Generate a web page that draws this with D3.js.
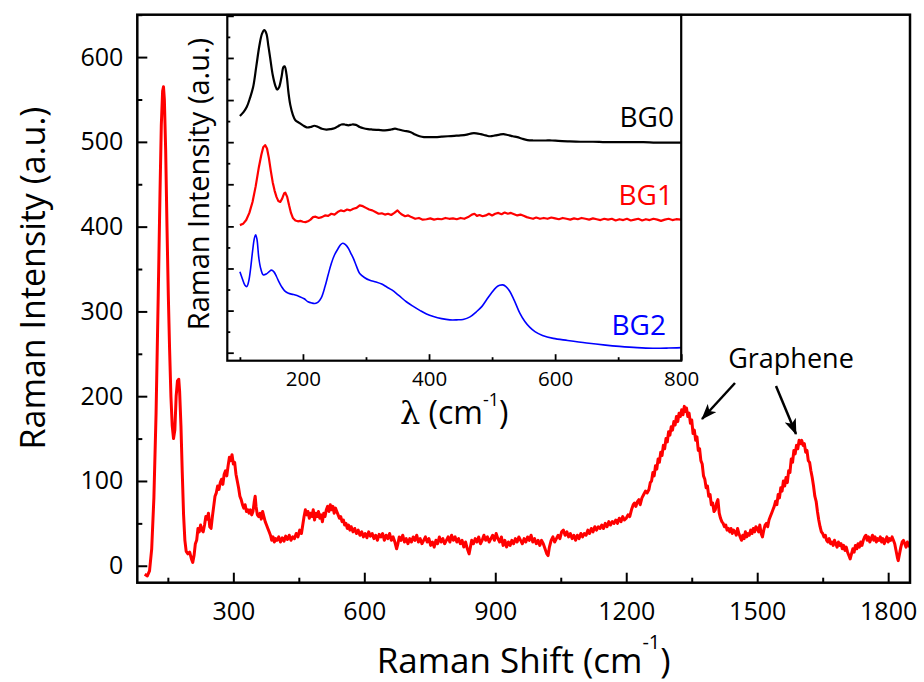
<!DOCTYPE html>
<html><head><meta charset="utf-8">
<script src="https://cdn.jsdelivr.net/npm/d3@7"></script>
<style>body{margin:0;background:#fff} svg{display:block} text{font-family:"Open Sans",sans-serif;fill:#000}</style>
</head><body><svg id="c" width="924" height="682"></svg>
<script>
// ---------- DATA ----------
const mainSpectrum = [[97,-10],[103,-12],[108,-6],[113,20],[118,80],[123,180],[128,320],[132,440],[135,520],[138,560],[140,565],[142,550],[145,490],[148,400],[151,320],[154,255],[157,200],[160,165],[163,150],[166,160],[169,200],[172,218],[175,220],[177,205],[180,165],[183,110],[186,60],[189,30],[192,17],[196,14],[200,16],[204,8],[207,4],[210,12],[213,26],[216,30],[219,44],[222,40],[225,48],[228,42],[231,40],[234,48],[237,58],[240,55],[243,62],[246,46],[249,44],[252,58],[255,70],[258,82],[261,86],[264,94],[267,90],[270,98],[273,102],[276,96],[279,108],[282,112],[285,106],[288,118],[291,128],[294,124],[297,131],[300,120],[303,122],[306,108],[309,100],[312,92],[315,82],[318,78],[321,72],[324,68],[327,72],[330,64],[333,66],[336,62],[339,66],[342,60],[345,64],[348,76],[350,82],[352,70],[355,60],[358,58],[361,62],[364,55],[367,64],[370,58],[373,52],[376,48],[379,44],[382,40],[385,36],[388,30],[391,34],[394,28],[397,32],[400,30],[404,34],[408,28],[412,33],[416,29],[420,35],[424,31],[428,36],[432,30],[436,34],[440,32],[444,38],[448,34],[452,42],[456,38],[459,48],[462,58],[465,66],[468,60],[471,64],[474,56],[477,62],[480,58],[483,66],[486,54],[489,62],[492,58],[495,64],[498,56],[501,60],[504,52],[507,62],[510,58],[513,66],[516,70],[519,64],[522,72],[525,66],[528,70],[531,62],[534,68],[537,64],[540,60],[543,56],[546,58],[549,52],[552,54],[555,48],[558,50],[561,44],[564,48],[567,42],[570,46],[574,40],[578,44],[582,38],[586,42],[590,36],[594,40],[598,34],[602,38],[606,33],[610,40],[614,35],[618,38],[622,32],[626,36],[630,30],[634,37],[638,34],[642,38],[646,30],[650,36],[654,32],[658,38],[662,30],[666,34],[670,28],[674,20],[677,26],[680,34],[684,30],[688,36],[692,28],[696,32],[700,26],[704,32],[708,28],[712,34],[716,30],[720,36],[724,28],[728,32],[732,26],[736,30],[740,34],[744,28],[748,32],[752,24],[756,28],[760,22],[764,30],[768,26],[772,34],[776,28],[780,32],[784,26],[788,30],[792,34],[796,28],[800,36],[804,30],[808,34],[812,28],[816,32],[820,26],[824,30],[828,22],[832,28],[836,20],[840,14],[843,22],[846,30],[850,26],[854,32],[858,28],[862,34],[866,26],[870,30],[874,36],[878,30],[882,34],[886,28],[890,32],[894,36],[898,30],[902,38],[906,32],[910,28],[914,34],[918,24],[922,30],[926,22],[930,28],[934,24],[938,30],[942,26],[946,32],[950,28],[954,34],[958,30],[962,26],[966,32],[970,28],[974,34],[978,30],[982,36],[986,28],[990,32],[994,26],[998,30],[1002,24],[1006,30],[1010,26],[1014,20],[1018,14],[1021,12],[1024,22],[1028,30],[1032,34],[1036,28],[1040,32],[1044,36],[1048,32],[1052,40],[1056,42],[1060,36],[1064,40],[1068,34],[1072,38],[1076,32],[1080,36],[1084,30],[1088,36],[1092,32],[1096,38],[1100,34],[1104,38],[1108,36],[1112,42],[1116,38],[1120,44],[1124,40],[1128,46],[1132,42],[1136,46],[1140,44],[1144,48],[1148,44],[1152,50],[1156,46],[1160,52],[1164,48],[1168,52],[1172,50],[1176,54],[1180,50],[1184,56],[1188,52],[1192,58],[1196,54],[1200,56],[1204,60],[1208,58],[1212,66],[1216,72],[1219,74],[1222,70],[1226,76],[1229,78],[1232,72],[1236,80],[1240,84],[1244,88],[1248,86],[1252,90],[1255,98],[1258,100],[1261,110],[1264,106],[1267,118],[1270,114],[1273,126],[1276,122],[1279,134],[1282,130],[1285,142],[1288,138],[1291,150],[1294,146],[1297,158],[1300,154],[1303,164],[1306,160],[1309,170],[1312,166],[1315,176],[1318,170],[1321,180],[1324,176],[1327,184],[1330,178],[1333,188],[1336,182],[1338,186],[1341,176],[1344,180],[1347,168],[1350,172],[1353,156],[1356,160],[1359,148],[1362,152],[1365,136],[1368,138],[1371,124],[1374,120],[1377,106],[1380,102],[1383,92],[1386,94],[1389,82],[1392,84],[1395,72],[1398,74],[1401,64],[1404,66],[1407,74],[1410,78],[1413,62],[1416,56],[1419,52],[1422,50],[1425,46],[1428,48],[1431,42],[1434,44],[1437,40],[1440,44],[1443,38],[1446,42],[1449,40],[1452,36],[1455,44],[1458,38],[1461,34],[1464,30],[1467,36],[1470,32],[1473,40],[1476,34],[1479,38],[1482,36],[1485,42],[1488,38],[1491,44],[1494,40],[1497,46],[1500,44],[1503,40],[1506,48],[1509,38],[1512,34],[1515,42],[1518,48],[1521,50],[1524,46],[1527,54],[1530,58],[1533,62],[1536,66],[1539,70],[1542,76],[1545,72],[1548,84],[1551,80],[1554,92],[1557,88],[1560,100],[1563,94],[1566,104],[1569,98],[1572,112],[1575,110],[1578,126],[1581,122],[1584,136],[1587,132],[1590,142],[1593,138],[1596,148],[1599,144],[1602,148],[1605,142],[1608,144],[1611,134],[1614,136],[1617,124],[1620,122],[1623,112],[1626,104],[1629,94],[1632,82],[1635,76],[1638,64],[1641,54],[1644,46],[1647,40],[1650,38],[1653,34],[1656,36],[1659,30],[1662,28],[1665,32],[1668,26],[1671,28],[1674,24],[1677,30],[1680,26],[1683,22],[1686,28],[1689,24],[1692,26],[1695,20],[1698,24],[1701,18],[1704,22],[1707,16],[1710,12],[1713,8],[1716,14],[1719,20],[1722,16],[1725,24],[1728,20],[1731,26],[1734,22],[1737,28],[1740,24],[1743,30],[1746,34],[1749,36],[1752,30],[1755,34],[1758,28],[1761,32],[1764,36],[1767,30],[1770,34],[1773,28],[1776,32],[1779,30],[1782,34],[1785,28],[1788,32],[1791,26],[1794,30],[1797,34],[1800,28],[1803,32],[1806,30],[1809,34],[1812,30],[1815,26],[1818,18],[1821,10],[1823,6],[1826,14],[1829,22],[1832,28],[1835,30],[1838,26],[1841,22],[1844,28],[1847,24],[1850,22]];

const bg0 = [[100,562],[106,572],[111,584],[116,605],[121,631],[126,680],[131,730],[135,757],[138.7,766],[142,758],[145,730],[148,700],[152,660],[156,635],[159,625],[162,630],[166,655],[169,678],[171,680],[174,660],[177,618],[180,588],[184,565],[188,552],[194,546],[200,540],[206,535],[212,536],[218,539],[224,536],[230,532],[237,530],[244,531],[250,533],[256,538],[261,542],[266,542],[272,540],[278,542],[284,541],[290,536],[296,533],[303,531],[310,530],[320,529],[330,528],[340,530],[346,532],[352,530],[360,527],[368,525],[372,523],[378,518],[385,514],[392,512],[400,512],[410,512],[420,513],[430,514],[440,515],[450,516],[460,518],[468,521],[475,521],[482,519],[490,516],[497,514],[505,516],[512,518],[518,519],[525,517],[533,514],[540,512],[548,508],[556,505],[565,504],[575,504],[585,504],[595,504],[605,503],[620,502],[640,501],[660,501],[680,500],[700,500],[720,500],[740,500],[760,499],[780,499],[800,499]];

const bg1 = [[100,303],[105,306],[110,315],[115,332],[120,358],[125,395],[130,440],[134,470],[137,488],[140,493],[143,485],[146,462],[149,432],[152,405],[155,385],[158,370],[161,360],[164,358],[167,366],[170,378],[172,380],[175,370],[178,350],[181,332],[184,320],[188,314],[192,312],[196,313],[200,311],[204,310],[208,312],[212,316],[216,322],[220,323],[225,320],[230,322],[235,326],[240,325],[245,330],[250,328],[255,334],[260,338],[265,336],[270,340],[275,338],[280,342],[285,344],[290,350],[295,348],[300,344],[305,340],[310,338],[315,334],[320,330],[325,331],[330,328],[335,330],[340,327],[345,332],[350,338],[353,333],[357,328],[362,324],[367,326],[372,322],[378,318],[384,320],[390,316],[396,317],[402,319],[408,316],[414,318],[420,317],[426,320],[432,318],[438,319],[444,317],[450,320],[456,318],[462,322],[468,328],[472,330],[476,325],[480,327],[485,324],[490,326],[495,330],[500,326],[505,330],[510,332],[515,329],[520,333],[525,330],[530,332],[535,329],[540,326],[545,328],[550,325],[555,322],[560,320],[565,318],[570,321],[576,318],[582,320],[588,318],[594,321],[600,319],[606,317],[612,320],[618,318],[624,316],[630,319],[636,317],[642,320],[648,318],[654,316],[660,319],[666,317],[672,315],[678,318],[684,316],[690,318],[696,314],[702,317],[708,315],[714,318],[720,314],[726,316],[732,318],[738,314],[744,317],[750,315],[756,318],[762,316],[768,313],[774,316],[780,318],[786,315],[792,317],[800,316]];

const bg2 = [[100,192],[104,175],[108,160],[111,157],[114,170],[117,200],[120,240],[123,272],[125,280],[127,270],[130,225],[133,200],[137,185],[142,187],[146,192],[150,196],[154,192],[158,181],[162,168],[166,157],[171,147],[177,141],[185,138],[195,133],[202,128],[208,121],[214,118],[219,117],[224,120],[229,130],[235,157],[240,185],[245,212],[250,232],[256,248],[260,257],[263,260],[267,257],[272,248],[276,236],[280,224],[285,205],[290,188],[298,178],[306,172],[316,168],[325,163],[333,156],[341,149],[352,136],[364,121],[375,110],[386,100],[396,92],[407,86],[420,81],[433,78],[444,78],[454,79],[465,85],[475,97],[484,110],[491,125],[499,142],[507,156],[512,160],[517,161],[522,157],[528,146],[535,125],[544,94],[552,74],[560,60],[568,50],[580,41],[597,34],[620,29],[650,23],[680,18],[702,15],[730,12],[755,10.5],[780,11],[800,12]];

const mainXTicks = [300,600,900,1200,1500,1800];
const mainXMinor = [150,450,750,1050,1350,1650];
const mainYTicks = [0,100,200,300,400,500,600];
const mainYMinor = [50,150,250,350,450,550,650];
const insetXTicks = [200,400,600,800];
const insetXMinor = [100,300,500,700];
const insetYMajor = [0,100,200,300,400,500,600,700,800];
const insetYMinor = [50,150,250,350,450,550,650,750];
const insetLabels = ["BG0","BG1","BG2"];
const insetColors = ["#000000","#ff0000","#0000ff"];

// ---------- LAYOUT ----------
const svg = d3.select("#c");
const M = {l:137.3, r:910, t:14.7, b:582.7};
const I = {l:227.3, r:681.2, t:15, b:360.7};
const x = d3.scaleLinear([80,1850],[M.l,M.r]);
const y = d3.scaleLinear([-20,650],[M.b,M.t]);
const ix = d3.scaleLinear([80,800],[I.l,I.r]);
const iy = d3.scaleLinear([-19,802],[I.b,I.t]);

const defs = svg.append("defs");
defs.append("clipPath").attr("id","mclip").append("rect")
  .attr("x",M.l).attr("y",M.t).attr("width",M.r-M.l).attr("height",M.b-M.t);
defs.append("marker").attr("id","arr").attr("viewBox","0 0 16 12")
  .attr("markerUnits","userSpaceOnUse").attr("markerWidth",16).attr("markerHeight",12)
  .attr("refX",15).attr("refY",6).attr("orient","auto")
  .append("path").attr("d","M0,0 L16,6 L0,12 L4,6 Z").attr("fill","#000");

function styleAxis(g, w){
  g.select(".domain").remove();
  g.selectAll(".tick line").attr("stroke","#000").attr("stroke-width",w);
}

// main axes
const gx = svg.append("g").attr("transform",`translate(0,${M.b})`)
  .call(d3.axisBottom(x).tickValues(mainXTicks).tickSizeInner(-10).tickSizeOuter(0).tickPadding(19.5).tickFormat(d3.format("d")));
styleAxis(gx,2);
gx.selectAll("text").attr("font-size",25).attr("font-family","Open Sans");
const gxm = svg.append("g").attr("transform",`translate(0,${M.b})`)
  .call(d3.axisBottom(x).tickValues(mainXMinor).tickSizeInner(-5).tickSizeOuter(0).tickFormat(""));
styleAxis(gxm,2);

const gy = svg.append("g").attr("transform",`translate(${M.l},0)`)
  .call(d3.axisLeft(y).tickValues(mainYTicks).tickSizeInner(-10).tickSizeOuter(0).tickPadding(14).tickFormat(d3.format("d")));
styleAxis(gy,2);
gy.selectAll("text").attr("font-size",25).attr("font-family","Open Sans");
const gym = svg.append("g").attr("transform",`translate(${M.l},0)`)
  .call(d3.axisLeft(y).tickValues(mainYMinor).tickSizeInner(-5).tickSizeOuter(0).tickFormat(""));
styleAxis(gym,2);

// main curve
svg.append("path").datum(mainSpectrum).attr("clip-path","url(#mclip)")
  .attr("fill","none").attr("stroke","#ff0000").attr("stroke-width",3)
  .attr("stroke-linejoin","round")
  .attr("d", d3.line().x(d=>x(d[0])).y(d=>y(d[1])));

svg.append("rect").attr("x",M.l).attr("y",M.t).attr("width",M.r-M.l).attr("height",M.b-M.t)
  .attr("fill","none").attr("stroke","#000").attr("stroke-width",2.5);

// main titles
const xt = svg.append("text").attr("x",(M.l+M.r)/2).attr("y",673).attr("text-anchor","middle").attr("font-size",35);
xt.append("tspan").text("Raman Shift (cm");
xt.append("tspan").attr("font-size",20).attr("dy",-24).text("-1");
xt.append("tspan").attr("font-size",35).attr("dy",24).text(")");

svg.append("text").attr("transform","translate(45,278) rotate(-90)")
  .attr("text-anchor","middle").attr("font-size",34).text("Raman Intensity (a.u.)");

// ---------- INSET ----------
svg.append("rect").attr("x",I.l).attr("y",I.t).attr("width",I.r-I.l).attr("height",I.b-I.t)
  .attr("fill","#fff");

const igx = svg.append("g").attr("transform",`translate(0,${I.b})`)
  .call(d3.axisBottom(ix).tickValues(insetXTicks).tickSizeInner(-6.5).tickSizeOuter(0).tickPadding(11).tickFormat(d3.format("d")));
styleAxis(igx,1.8);
igx.selectAll("text").attr("font-size",20.5).attr("font-family","Open Sans");
const igxm = svg.append("g").attr("transform",`translate(0,${I.b})`)
  .call(d3.axisBottom(ix).tickValues(insetXMinor).tickSizeInner(-3.5).tickSizeOuter(0).tickFormat(""));
styleAxis(igxm,1.8);
const igy = svg.append("g").attr("transform",`translate(${I.l},0)`)
  .call(d3.axisLeft(iy).tickValues(insetYMajor).tickSizeInner(-6.5).tickSizeOuter(0).tickFormat(""));
styleAxis(igy,1.8);
const igym = svg.append("g").attr("transform",`translate(${I.l},0)`)
  .call(d3.axisLeft(iy).tickValues(insetYMinor).tickSizeInner(-3).tickSizeOuter(0).tickFormat(""));
styleAxis(igym,1.8);

const smooth = d3.line().x(d=>ix(d[0])).y(d=>iy(d[1])).curve(d3.curveCatmullRom.alpha(0.5));
const plain = d3.line().x(d=>ix(d[0])).y(d=>iy(d[1]));
svg.append("path").datum(bg0).attr("fill","none").attr("stroke",insetColors[0]).attr("stroke-width",2.2).attr("d",smooth);
svg.append("path").datum(bg1).attr("fill","none").attr("stroke",insetColors[1]).attr("stroke-width",2.2).attr("stroke-linejoin","round").attr("d",plain);
svg.append("path").datum(bg2).attr("fill","none").attr("stroke",insetColors[2]).attr("stroke-width",1.6).attr("d",smooth);

svg.append("rect").attr("x",I.l).attr("y",I.t).attr("width",I.r-I.l).attr("height",I.b-I.t)
  .attr("fill","none").attr("stroke","#000").attr("stroke-width",2.2);

const labelPos = [[674,126.7],[673,205],[666,335]];
insetLabels.forEach((t,i)=>{
  svg.append("text").attr("x",labelPos[i][0]).attr("y",labelPos[i][1]).attr("text-anchor","end")
    .attr("font-size",28).style("fill",insetColors[i]).text(t);
});

const ixt = svg.append("text").attr("x",(I.l+I.r)/2).attr("y",424).attr("text-anchor","middle").attr("font-size",32);
ixt.append("tspan").attr("font-family","DejaVu Serif").text("λ");
ixt.append("tspan").text(" (cm");
ixt.append("tspan").attr("font-size",18).attr("dy",-18).text("-1");
ixt.append("tspan").attr("font-size",32).attr("dy",18).text(")");

svg.append("text").attr("transform","translate(209,184) rotate(-90)")
  .attr("text-anchor","middle").attr("font-size",29).text("Raman Intensity (a.u.)");

// ---------- ANNOTATION ----------
svg.append("text").attr("x",791).attr("y",368).attr("text-anchor","middle").attr("font-size",27).text("Graphene");
svg.append("line").attr("x1",735).attr("y1",383).attr("x2",702).attr("y2",419)
  .attr("stroke","#000").attr("stroke-width",2.5).attr("marker-end","url(#arr)");
svg.append("line").attr("x1",776).attr("y1",386).attr("x2",796).attr("y2",434)
  .attr("stroke","#000").attr("stroke-width",2.5).attr("marker-end","url(#arr)");
</script></body></html>
